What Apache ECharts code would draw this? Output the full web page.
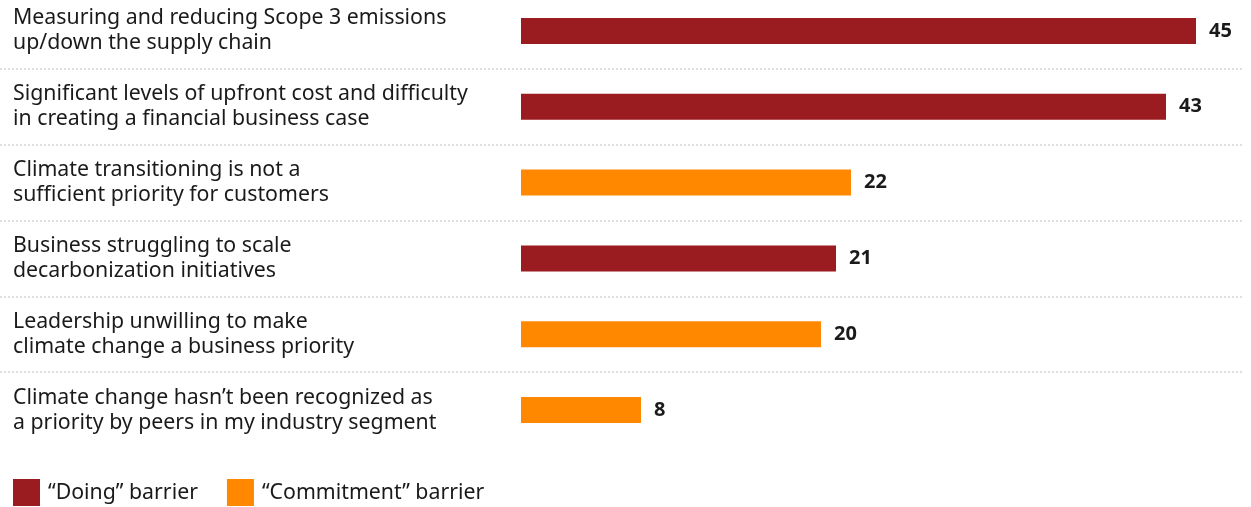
<!DOCTYPE html>
<html>
<head>
<meta charset="utf-8">
<script src="https://cdn.jsdelivr.net/npm/echarts@6/dist/echarts.min.js"></script>
<style>
  html, body { margin: 0; padding: 0; background: #fff; }
  #chart { width: 1251px; height: 507px; }
</style>
</head>
<body>
<div id="chart"></div>
<script>
// Barriers to decarbonization, share of respondents (%)
const categories = [
  'Measuring and reducing Scope 3 emissions\nup/down the supply chain',
  'Significant levels of upfront cost and difficulty\nin creating a financial business case',
  'Climate transitioning is not a\nsufficient priority for customers',
  'Business struggling to scale\ndecarbonization initiatives',
  'Leadership unwilling to make\nclimate change a business priority',
  'Climate change hasn’t been recognized as\na priority by peers in my industry segment'
];
const values = [45, 43, 22, 21, 20, 8];
// 'D' = "Doing" barrier, 'C' = "Commitment" barrier
const barrierType = ['D', 'D', 'C', 'D', 'C', 'C'];
const seriesNames = ['“Doing” barrier', '“Commitment” barrier'];
const seriesColors = ['#9B1C20', '#FF8800'];

const FONT = '"Noto Sans", "Open Sans", sans-serif';

const doingData = values.map((v, i) => barrierType[i] === 'D' ? v : null);
const commitData = values.map((v, i) => barrierType[i] === 'C' ? v : null);

// the left part of the value axis is reserved for the category text
const pxPerUnit = 15;
const barStartPx = 521;
const plotWidth = 1243;
const xMin = -barStartPx / pxPerUnit;
const xMax = (plotWidth - barStartPx) / pxPerUnit;

const gridRect = { left: 0, width: plotWidth, top: -7, height: 455, outerBoundsMode: 'none', containLabel: false };

const valueLabel = {
  show: true,
  position: 'right',
  distance: 13,
  fontFamily: FONT,
  fontSize: 20,
  fontWeight: 'bold',
  color: '#1a1a1a'
};

const chart = echarts.init(document.getElementById('chart'), null, { renderer: 'canvas' });
chart.setOption({
  animation: false,
  textStyle: { fontFamily: FONT },
  grid: [gridRect, Object.assign({}, gridRect)],
  xAxis: [
    { type: 'value', gridIndex: 0, min: xMin, max: xMax, show: false },
    { type: 'value', gridIndex: 1, min: 0, max: 1, show: false }
  ],
  yAxis: [
    {
      type: 'category',
      gridIndex: 0,
      data: categories,
      inverse: true,
      axisLine: { show: false, onZero: false },
      axisTick: { show: false },
      splitLine: { show: false },
      axisLabel: {
        inside: true,
        margin: 13,
        align: 'left',
        fontFamily: FONT,
        fontSize: 21.3,
        lineHeight: 25,
        color: '#1a1a1a'
      }
    },
    {
      // row separators between the categories
      type: 'value',
      gridIndex: 1,
      min: 0,
      max: categories.length,
      interval: 1,
      inverse: true,
      axisLine: { show: false },
      axisTick: { show: false },
      axisLabel: { show: false },
      splitLine: {
        show: true,
        showMinLine: false,
        showMaxLine: false,
        lineStyle: { color: '#dedede', width: 2, type: [2, 2] }
      }
    }
  ],
  legend: {
    left: 13,
    top: 479,
    padding: 0,
    icon: 'rect',
    itemWidth: 27,
    itemHeight: 27,
    itemGap: 29,
    textStyle: { fontFamily: FONT, fontSize: 21.3, color: '#1a1a1a', padding: [0, 0, 0, 3] },
    data: seriesNames
  },
  series: [
    {
      name: seriesNames[0],
      type: 'bar',
      data: doingData,
      barWidth: 26,
      barGap: '-100%',
      itemStyle: { color: seriesColors[0] },
      label: valueLabel
    },
    {
      name: seriesNames[1],
      type: 'bar',
      data: commitData,
      barWidth: 26,
      barGap: '-100%',
      itemStyle: { color: seriesColors[1] },
      label: valueLabel
    }
  ]
});
</script>
</body>
</html>
